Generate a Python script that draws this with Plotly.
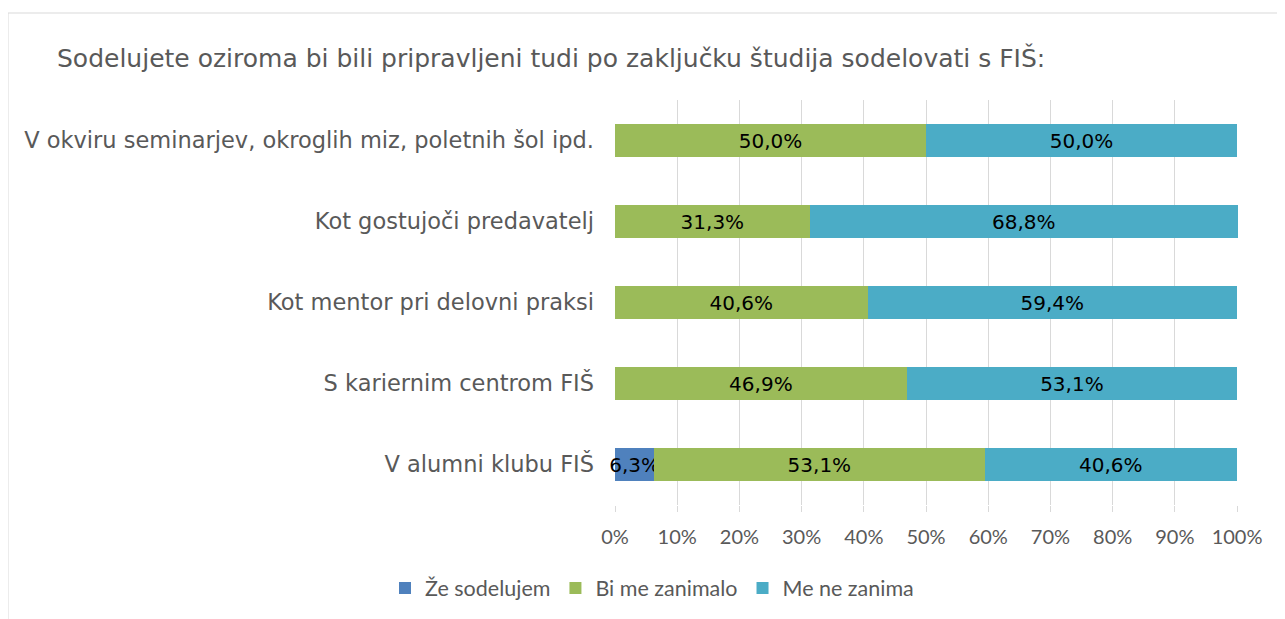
import plotly.graph_objects as go

categories = [
    "V okviru seminarjev, okroglih miz, poletnih šol ipd.",
    "Kot gostujoči predavatelj",
    "Kot mentor pri delovni praksi",
    "S kariernim centrom FIŠ",
    "V alumni klubu FIŠ",
]
series_names = ["Že sodelujem", "Bi me zanimalo", "Me ne zanima"]
ze_sodelujem = [0.0, 0.0, 0.0, 0.0, 0.063]
bi_me_zanimalo = [0.50, 0.313, 0.406, 0.469, 0.531]
me_ne_zanima = [0.50, 0.688, 0.594, 0.531, 0.406]
tick_vals = [0, 0.1, 0.2, 0.3, 0.4, 0.5, 0.6, 0.7, 0.8, 0.9, 1.0]

colors = ["#4f81bd", "#9bbb59", "#4bacc6"]
label_font = "DejaVu Sans"

W, H = 1277, 611
L, R, T, B = 607, 47, 92, 114
pw, ph = W - L - R, H - T - B

fig = go.Figure()
for name, vals, col in zip(series_names, [ze_sodelujem, bi_me_zanimalo, me_ne_zanima], colors):
    texts = [("%.1f%%" % (v * 100)).replace(".", ",") if v > 0 else "" for v in vals]
    fig.add_trace(go.Bar(
        y=categories, x=vals, name=name, orientation="h",
        marker=dict(color=col, line=dict(width=0)),
        text=texts, textposition="inside", insidetextanchor="middle",
        constraintext="none", cliponaxis=False,
        textfont=dict(family=label_font, size=20, color="#000000"),
        hoverinfo="x+name",
    ))

fig.update_layout(
    barmode="stack",
    bargap=0.6,
    width=W, height=H,
    margin=dict(l=L, r=R, t=T, b=B),
    paper_bgcolor="white", plot_bgcolor="white",
    separators=",.",
    title=dict(text="Sodelujete oziroma bi bili pripravljeni tudi po zaključku študija sodelovati s FIŠ:",
               x=49 / W, xanchor="left", y=1 - 50 / H, yanchor="middle",
               font=dict(family=label_font, size=25, color="#595959")),
    xaxis=dict(range=[0, 1.0015], tickvals=tick_vals, tickformat=".0%",
               showgrid=True, gridcolor="#d9d9d9", gridwidth=1,
               ticks="outside", ticklen=6, tickcolor="#d9d9d9",
               ticklabelstandoff=8,
               zeroline=False, showline=False,
               tickfont=dict(family="Lato", size=20, color="#595959")),
    yaxis=dict(categoryorder="array", categoryarray=categories[::-1],
               showgrid=False, ticks="", showline=False,
               ticklabelstandoff=20,
               tickfont=dict(family=label_font, size=22.5, color="#595959")),
    legend=dict(orientation="h", x=644 / W, xref="container", xanchor="center",
                y=1 - 580 / H, yref="container", yanchor="middle",
                font=dict(family="Lato", size=21.5, color="#595959"),
                traceorder="normal", itemwidth=30),
    shapes=[dict(type="rect", xref="paper", yref="paper",
                 x0=(0 - L) / pw, x1=(1276 - L) / pw,
                 y0=(T + ph - 640) / ph, y1=(T + ph - 5) / ph,
                 line=dict(color="#d9d9d9", width=1), fillcolor="rgba(0,0,0,0)",
                 layer="below")],
)

fig.write_html("out.html")
